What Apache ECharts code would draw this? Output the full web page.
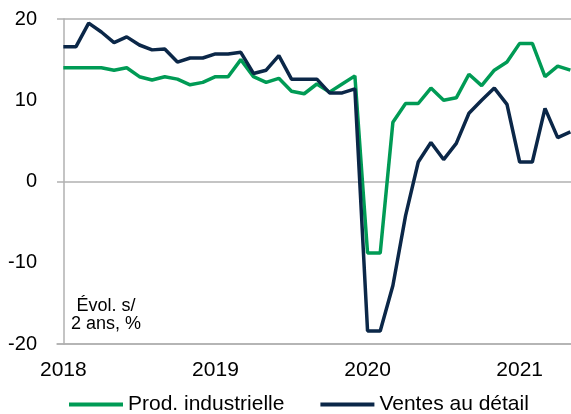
<!DOCTYPE html>
<html>
<head>
<meta charset="utf-8">
<script src="https://cdn.jsdelivr.net/npm/echarts@6/dist/echarts.min.js"></script>
<style>
  html, body { margin: 0; padding: 0; background: #fff; }
  #main { width: 571px; height: 414px; }
</style>
</head>
<body>
<div id="main"></div>
<script>
// mois de janv. 2018 a mai 2021 (index 0 = janv. 2018)
var startYear = 2018;
var anneesIdx = [0, 12, 24, 36];

var prodIndustrielle = [14.0, 14.0, 14.0, 14.0, 13.7, 14.0, 12.9, 12.5, 12.9, 12.6,
	11.9, 12.2, 12.9, 12.9, 15.0, 12.9, 12.2, 12.7, 11.1, 10.8,
	12.0, 11.0, 12.0, 13.0, -8.8, -8.8, 7.3, 9.6, 9.6, 11.5,
	10.0, 10.3, 13.2, 11.8, 13.7, 14.7, 17.0, 17.0, 12.9, 14.2,
	13.7];

var ventesDetail = [16.6, 16.6, 19.5, 18.4, 17.1, 17.8, 16.8, 16.2, 16.3, 14.7,
	15.2, 15.2, 15.7, 15.7, 15.9, 13.3, 13.7, 15.5, 12.6, 12.6,
	12.6, 10.9, 10.9, 11.4, -18.4, -18.4, -12.8, -4.2, 2.4, 4.8,
	2.7, 4.7, 8.4, 10.0, 11.5, 9.5, 2.4, 2.4, 9.0, 5.4,
	6.1];

var vert = '#009b55';
var marine = '#0b2748';
var gris = '#b0b0b0';
var police = 'Liberation Sans, Arial, sans-serif';

function enPoints(arr){
	return arr.map(function(v, i){ return [i, v]; });
}

var chart = echarts.init(document.getElementById('main'));

var option = {
	backgroundColor: '#fff',
	animation: false,
	textStyle: { fontFamily: police },
	grid: {
		left: 57,
		right: 0,
		top: 19,
		bottom: 70
	},
	legend: {
		left: 69,
		top: 394,
		padding: 0,
		itemGap: 36,
		itemWidth: 54,
		itemHeight: 4,
		icon: 'rect',
		textStyle: { fontSize: 21, color: '#000', fontFamily: police },
		data: ['Prod. industrielle', 'Ventes au détail']
	},
	graphic: [{
		type: 'text',
		x: 106,
		y: 297,
		style: {
			text: 'Évol. s/\n2 ans, %',
			fontSize: 18,
			lineHeight: 18,
			fontFamily: police,
			fill: '#000',
			align: 'center',
			verticalAlign: 'top'
		}
	}],
	xAxis: {
		type: 'value',
		// demi-mois a gauche, le graphique original est coupe a droite
		min: -0.5,
		max: 40.05,
		axisLine: { onZero: false, lineStyle: { color: gris, width: 1.5 } },
		axisTick: { show: false },
		axisLabel: {
			customValues: anneesIdx,
			showMinLabel: true,
			showMaxLabel: true,
			margin: 16,
			fontSize: 21,
			color: '#000',
			formatter: function (v) {
				return String(startYear + Math.round(v / 12));
			}
		},
		splitLine: { show: false }
	},
	yAxis: [{
		type: 'value',
		min: -20,
		max: 20,
		interval: 10,
		axisLine: { show: true, lineStyle: { color: gris, width: 1.5 } },
		axisTick: { show: false },
		axisLabel: { fontSize: 20, color: '#000', margin: 20 },
		splitLine: { show: false }
	}, {
		// quadrillage a 20 / 0 / -20 seulement
		type: 'value',
		position: 'left',
		min: -20,
		max: 20,
		interval: 20,
		axisLine: { show: false },
		axisTick: { show: false },
		axisLabel: { show: false },
		splitLine: { show: true, lineStyle: { color: gris, width: 1.5 } }
	}],
	series: [{
		name: 'Prod. industrielle',
		type: 'line',
		data: enPoints(prodIndustrielle),
		showSymbol: false,
		symbol: 'none',
		color: vert,
		lineStyle: { color: vert, width: 3.5 }
	}, {
		name: 'Ventes au détail',
		type: 'line',
		data: enPoints(ventesDetail),
		showSymbol: false,
		symbol: 'none',
		color: marine,
		lineStyle: { color: marine, width: 3.5 }
	}]
};

chart.setOption(option);
</script>
</body>
</html>
